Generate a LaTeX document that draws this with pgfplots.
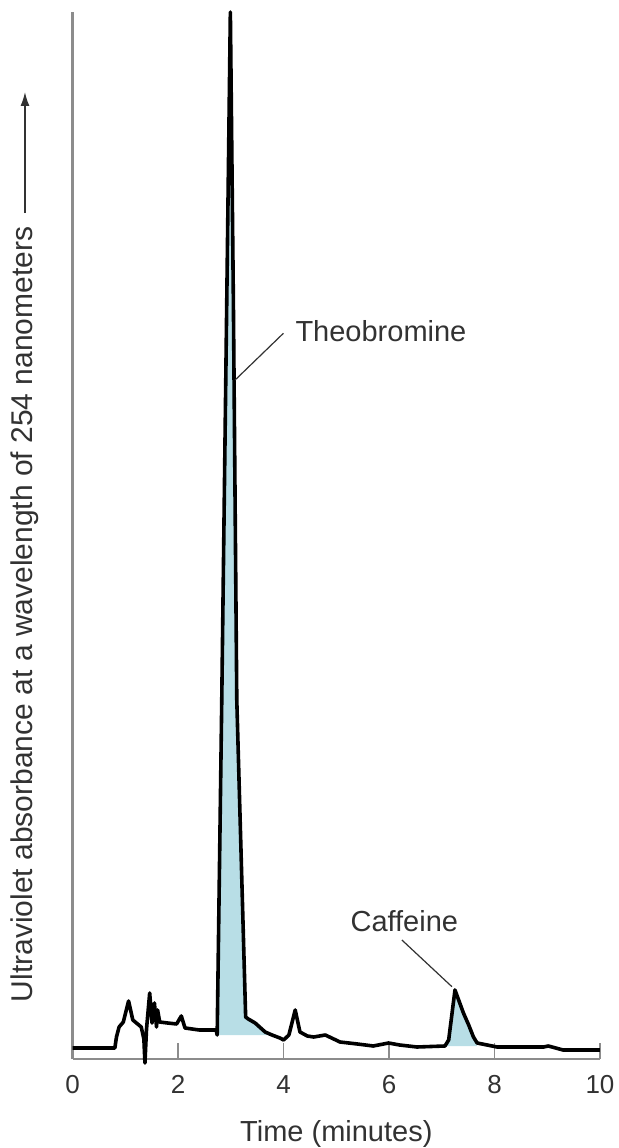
\documentclass[border=0pt]{standalone}
\usepackage{pgfplots}
\pgfplotsset{compat=1.18}
\usepackage{fontspec}
\setmainfont{Liberation Sans}
\usetikzlibrary{arrows.meta}
\definecolor{peakfill}{RGB}{184,222,230}
\definecolor{axgray}{RGB}{140,140,140}
\definecolor{txt}{RGB}{50,50,50}
\begin{document}
\begin{tikzpicture}
\begin{axis}[
  at={(0,0)}, anchor=south west,
  scale only axis,
  width=263.65pt, height=523.5pt,
  xmin=0, xmax=10, ymin=0, ymax=1047,
  clip=false,
  axis x line=bottom, axis y line=left,
  axis line style={-, draw=axgray, line width=1.2pt},
  xtick={0,2,4,6,8,10},
  ytick=\empty,
  xtick align=inside,
  major tick length=8pt,
  tick style={draw=axgray, line width=0.7pt},
  /pgf/number format/assume math mode=true,
  xticklabel style={font=\fontsize{13}{15}\selectfont, text=txt, anchor=base, yshift=-17.15pt},
  xlabel={Time (minutes)},
  xlabel style={font=\fontsize{14.5}{17}\selectfont, text=txt, at={(axis description cs:0.5,0)}, anchor=base, yshift=-41.35pt},
  ylabel={Ultraviolet absorbance at a wavelength of 254 nanometers},
  ylabel style={font=\fontsize{15}{18}\selectfont, text=txt, at={(axis description cs:-0.0753,0.4247)}, anchor=base, rotate=0},
]
% shaded peak areas
\addplot[fill=peakfill, draw=none] coordinates {
  (2.745,24) (2.827,359) (2.922,759) (2.99,1047) (3.047,759) (3.112,359)
  (3.28,42) (3.33,40) (3.46,36) (3.65,27) (3.78,24)
} -- cycle;
\addplot[fill=peakfill, draw=none] coordinates {
  (7.10,13) (7.13,19) (7.25,69) (7.41,46) (7.51,34) (7.60,22) (7.67,13)
} -- cycle;
% chromatogram trace
\addplot[black, line width=1.8pt, line join=round] coordinates {
  (0,11) (0.80,11) (0.83,22) (0.88,32) (0.96,37) (1.06,58) (1.14,39)
  (1.30,32) (1.35,20) (1.37,-4) (1.40,30) (1.46,66) (1.505,36) (1.55,56)
  (1.59,32) (1.61,49) (1.65,37) (1.80,36) (1.97,35) (2.06,43) (2.13,31)
  (2.40,29) (2.72,29) (2.74,24) (2.827,359) (2.922,759) (2.99,1047)
  (3.047,759) (3.112,359) (3.28,42) (3.33,40) (3.46,36) (3.65,27)
  (3.78,24) (3.93,21) (4.00,19) (4.10,24) (4.22,49) (4.31,27) (4.45,23)
  (4.57,22) (4.79,24) (5.07,17) (5.40,15) (5.70,13) (5.99,16) (6.20,14)
  (6.53,12) (7.06,13) (7.13,19) (7.25,69) (7.41,46) (7.51,34) (7.60,22)
  (7.67,16) (8.05,12) (8.50,12) (8.93,12) (9.02,13) (9.30,9) (10,9)
};
% annotations
\draw[txt, line width=0.6pt] (axis cs:3.080,679) -- (axis cs:3.996,725.7);
\node[anchor=base west, inner sep=0pt, text=txt, font=\fontsize{14.5}{17}\selectfont] at (axis cs:4.218,717.3) {Theobromine};
\draw[txt, line width=0.6pt] (axis cs:6.243,119) -- (axis cs:7.192,72.3);
\node[anchor=base west, inner sep=0pt, text=txt, font=\fontsize{14.5}{17}\selectfont] at (axis cs:5.262,127.3) {Caffeine};
\draw[txt, line width=0.7pt, -{Latex[length=7pt,width=4.5pt]}] (axis description cs:-0.0905,0.808) -- (axis description cs:-0.0905,0.9236);
\end{axis}
\pgfresetboundingbox
\path[use as bounding box] (-36.35pt,-44.5pt) rectangle (273.15pt,529.5pt);
\end{tikzpicture}
\end{document}
